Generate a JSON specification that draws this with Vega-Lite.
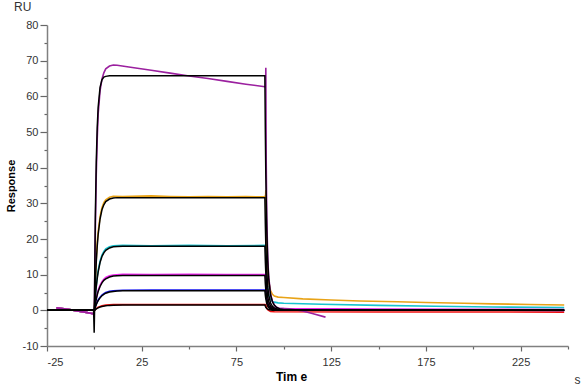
{
  "$schema": "https://vega.github.io/schema/vega-lite/v6.json",
  "width": 521,
  "height": 321,
  "autosize": "none",
  "padding": {"left": 47, "top": 25, "right": 13, "bottom": 41},
  "config": {"font": "Liberation Sans", "view": {"stroke": null}},
  "title": {"text": "RU", "anchor": "start", "frame": "group", "dx": -33, "offset": 5, "fontSize": 12, "fontWeight": "normal", "color": "#333333"},
  "datasets": {
    "meas": [
      {"s":"P6","t":-20,"v":0.7},{"s":"P6","t":-17,"v":0.5},{"s":"P6","t":-13,"v":0.2},{"s":"P6","t":-9,"v":-0.2},{"s":"P6","t":-5,"v":-0.5},{"s":"P6","t":-2,"v":-0.8},{"s":"P6","t":-0.5,"v":-1.0},
      {"s":"P6","t":0,"v":0},{"s":"P6","t":1,"v":0.5},{"s":"P6","t":2,"v":0.85},{"s":"P6","t":3,"v":1.1},{"s":"P6","t":4,"v":1.25},{"s":"P6","t":6,"v":1.45},{"s":"P6","t":8,"v":1.55},{"s":"P6","t":10,"v":1.6},{"s":"P6","t":20,"v":1.65},{"s":"P6","t":60,"v":1.65},{"s":"P6","t":90,"v":1.65},{"s":"P6","t":90.5,"v":1.6},{"s":"P6","t":90.7,"v":1.0},{"s":"P6","t":91,"v":0.6},{"s":"P6","t":91.5,"v":0.2},{"s":"P6","t":92,"v":0},{"s":"P6","t":93,"v":-0.3},{"s":"P6","t":95,"v":-0.4},{"s":"P6","t":150,"v":-0.45},{"s":"P6","t":248,"v":-0.5},

      {"s":"P5","t":-20,"v":0.7},{"s":"P5","t":-17,"v":0.5},{"s":"P5","t":-13,"v":0.2},{"s":"P5","t":-9,"v":-0.2},{"s":"P5","t":-5,"v":-0.5},{"s":"P5","t":-2,"v":-0.8},{"s":"P5","t":-0.5,"v":-1.0},
      {"s":"P5","t":0,"v":0},{"s":"P5","t":0.5,"v":1.0},{"s":"P5","t":1,"v":1.8},{"s":"P5","t":1.5,"v":2.4},{"s":"P5","t":2,"v":2.9},{"s":"P5","t":3,"v":3.7},{"s":"P5","t":4,"v":4.3},{"s":"P5","t":5,"v":4.7},{"s":"P5","t":6,"v":5.0},{"s":"P5","t":8,"v":5.35},{"s":"P5","t":10,"v":5.5},{"s":"P5","t":15,"v":5.65},{"s":"P5","t":30,"v":5.7},{"s":"P5","t":60,"v":5.7},{"s":"P5","t":90,"v":5.7},{"s":"P5","t":90.5,"v":5.7},{"s":"P5","t":90.7,"v":4.0},{"s":"P5","t":91,"v":2.8},{"s":"P5","t":91.5,"v":1.7},{"s":"P5","t":92,"v":1.1},{"s":"P5","t":93,"v":0.5},{"s":"P5","t":94,"v":0.3},{"s":"P5","t":96,"v":0.15},{"s":"P5","t":150,"v":0.05},{"s":"P5","t":248,"v":0.0},

      {"s":"P3","t":-20,"v":0.7},{"s":"P3","t":-17,"v":0.5},{"s":"P3","t":-13,"v":0.2},{"s":"P3","t":-9,"v":-0.2},{"s":"P3","t":-5,"v":-0.5},{"s":"P3","t":-2,"v":-0.8},{"s":"P3","t":-0.5,"v":-1.0},
      {"s":"P3","t":0,"v":0},{"s":"P3","t":0.5,"v":4},{"s":"P3","t":1,"v":7},{"s":"P3","t":1.5,"v":9.4},{"s":"P3","t":2,"v":11.2},{"s":"P3","t":3,"v":13.8},{"s":"P3","t":4,"v":15.5},{"s":"P3","t":5,"v":16.5},{"s":"P3","t":6,"v":17.2},{"s":"P3","t":8,"v":17.8},{"s":"P3","t":10,"v":18.1},{"s":"P3","t":15,"v":18.2},{"s":"P3","t":30,"v":18.1},{"s":"P3","t":50,"v":18.2},{"s":"P3","t":70,"v":18.1},{"s":"P3","t":90,"v":18.2},{"s":"P3","t":90.5,"v":18.3},{"s":"P3","t":90.7,"v":13},{"s":"P3","t":91,"v":9.5},{"s":"P3","t":91.5,"v":6.0},{"s":"P3","t":92,"v":4.2},{"s":"P3","t":93,"v":3.0},{"s":"P3","t":94,"v":2.5},{"s":"P3","t":95,"v":2.3},{"s":"P3","t":97,"v":2.1},{"s":"P3","t":100,"v":2.0},{"s":"P3","t":120,"v":1.7},{"s":"P3","t":150,"v":1.4},{"s":"P3","t":180,"v":1.15},{"s":"P3","t":210,"v":0.95},{"s":"P3","t":248,"v":0.75},

      {"s":"P2","t":-20,"v":0.7},{"s":"P2","t":-17,"v":0.5},{"s":"P2","t":-13,"v":0.2},{"s":"P2","t":-9,"v":-0.2},{"s":"P2","t":-5,"v":-0.5},{"s":"P2","t":-2,"v":-0.8},{"s":"P2","t":-0.5,"v":-1.0},
      {"s":"P2","t":0,"v":0},{"s":"P2","t":0.5,"v":8.5},{"s":"P2","t":1,"v":14.5},{"s":"P2","t":1.5,"v":19},{"s":"P2","t":2,"v":22},{"s":"P2","t":3,"v":26.3},{"s":"P2","t":4,"v":28.8},{"s":"P2","t":5,"v":30.2},{"s":"P2","t":6,"v":31.0},{"s":"P2","t":8,"v":31.7},{"s":"P2","t":10,"v":32.0},{"s":"P2","t":15,"v":31.9},{"s":"P2","t":20,"v":32.0},{"s":"P2","t":30,"v":32.1},{"s":"P2","t":40,"v":31.9},{"s":"P2","t":50,"v":31.8},{"s":"P2","t":60,"v":31.9},{"s":"P2","t":70,"v":31.8},{"s":"P2","t":80,"v":31.9},{"s":"P2","t":90,"v":31.8},{"s":"P2","t":90.4,"v":32.3},{"s":"P2","t":90.5,"v":33.7},{"s":"P2","t":90.7,"v":24},{"s":"P2","t":91,"v":17},{"s":"P2","t":91.5,"v":11},{"s":"P2","t":92,"v":8},{"s":"P2","t":93,"v":5.5},{"s":"P2","t":94,"v":4.5},{"s":"P2","t":95,"v":4.0},{"s":"P2","t":97,"v":3.7},{"s":"P2","t":100,"v":3.6},{"s":"P2","t":110,"v":3.2},{"s":"P2","t":125,"v":2.9},{"s":"P2","t":140,"v":2.6},{"s":"P2","t":160,"v":2.4},{"s":"P2","t":175,"v":2.2},{"s":"P2","t":195,"v":2.0},{"s":"P2","t":210,"v":1.8},{"s":"P2","t":230,"v":1.65},{"s":"P2","t":248,"v":1.5},

      {"s":"P4","t":-20,"v":0.7},{"s":"P4","t":-17,"v":0.5},{"s":"P4","t":-13,"v":0.2},{"s":"P4","t":-9,"v":-0.2},{"s":"P4","t":-5,"v":-0.5},{"s":"P4","t":-2,"v":-0.8},{"s":"P4","t":-0.5,"v":-1.0},
      {"s":"P4","t":0,"v":0},{"s":"P4","t":0.5,"v":1.9},{"s":"P4","t":1,"v":3.4},{"s":"P4","t":1.5,"v":4.6},{"s":"P4","t":2,"v":5.6},{"s":"P4","t":3,"v":7.0},{"s":"P4","t":4,"v":8.0},{"s":"P4","t":5,"v":8.7},{"s":"P4","t":6,"v":9.2},{"s":"P4","t":8,"v":9.7},{"s":"P4","t":10,"v":9.9},{"s":"P4","t":15,"v":10.1},{"s":"P4","t":30,"v":10.0},{"s":"P4","t":50,"v":10.1},{"s":"P4","t":70,"v":10.0},{"s":"P4","t":90,"v":10.0},{"s":"P4","t":90.5,"v":10.0},{"s":"P4","t":90.7,"v":7},{"s":"P4","t":91,"v":5},{"s":"P4","t":91.5,"v":3.2},{"s":"P4","t":92,"v":2.1},{"s":"P4","t":93,"v":1.1},{"s":"P4","t":94,"v":0.8},{"s":"P4","t":96,"v":0.6},{"s":"P4","t":100,"v":0.5},{"s":"P4","t":150,"v":0.35},{"s":"P4","t":200,"v":0.3},{"s":"P4","t":248,"v":0.2},

      {"s":"P1","t":-20,"v":0.7},{"s":"P1","t":-17,"v":0.5},{"s":"P1","t":-13,"v":0.2},{"s":"P1","t":-9,"v":-0.2},{"s":"P1","t":-5,"v":-0.5},{"s":"P1","t":-2,"v":-0.8},{"s":"P1","t":-0.5,"v":-1.0},
      {"s":"P1","t":0,"v":0},{"s":"P1","t":0.5,"v":22},{"s":"P1","t":1,"v":38},{"s":"P1","t":1.5,"v":48},{"s":"P1","t":2,"v":55},{"s":"P1","t":3,"v":61.5},{"s":"P1","t":4,"v":64.8},{"s":"P1","t":5,"v":66.6},{"s":"P1","t":6,"v":67.7},{"s":"P1","t":8,"v":68.5},{"s":"P1","t":10,"v":68.8},{"s":"P1","t":12,"v":68.7},{"s":"P1","t":20,"v":68.1},{"s":"P1","t":30,"v":67.3},{"s":"P1","t":40,"v":66.5},{"s":"P1","t":50,"v":65.7},{"s":"P1","t":60,"v":65.0},{"s":"P1","t":70,"v":64.2},{"s":"P1","t":80,"v":63.4},{"s":"P1","t":90,"v":62.7},{"s":"P1","t":90.4,"v":62.6},{"s":"P1","t":90.5,"v":68.0},{"s":"P1","t":90.7,"v":42},{"s":"P1","t":91,"v":26},{"s":"P1","t":91.5,"v":15},{"s":"P1","t":92,"v":9.5},{"s":"P1","t":93,"v":4.5},{"s":"P1","t":94,"v":2.5},{"s":"P1","t":95,"v":1.5},{"s":"P1","t":96,"v":1.0},{"s":"P1","t":97,"v":0.6},{"s":"P1","t":103,"v":0.4},{"s":"P1","t":110,"v":-0.2},{"s":"P1","t":116,"v":-1.0},{"s":"P1","t":122,"v":-1.9}
    ],
    "fit": [
      {"s":"F1","t":-25,"v":0},{"s":"F1","t":0,"v":0},{"s":"F1","t":0.5,"v":25.9},{"s":"F1","t":1,"v":41.6},{"s":"F1","t":1.5,"v":51.1},{"s":"F1","t":2,"v":56.9},{"s":"F1","t":3,"v":62.5},{"s":"F1","t":4,"v":64.6},{"s":"F1","t":5,"v":65.4},{"s":"F1","t":6,"v":65.6},{"s":"F1","t":8,"v":65.8},{"s":"F1","t":90,"v":65.8},{"s":"F1","t":90.25,"v":49.9},{"s":"F1","t":90.5,"v":38.0},{"s":"F1","t":91,"v":22.6},{"s":"F1","t":91.5,"v":13.9},{"s":"F1","t":92,"v":9.0},{"s":"F1","t":93,"v":4.3},{"s":"F1","t":94,"v":2.4},{"s":"F1","t":95,"v":1.4},{"s":"F1","t":96,"v":0.9},{"s":"F1","t":98,"v":0.4},{"s":"F1","t":100,"v":0.18},{"s":"F1","t":105,"v":0},{"s":"F1","t":248,"v":0},

      {"s":"F2","t":-25,"v":0},{"s":"F2","t":0,"v":0},{"s":"F2","t":0.5,"v":7.7},{"s":"F2","t":1,"v":13.5},{"s":"F2","t":1.5,"v":17.9},{"s":"F2","t":2,"v":21.2},{"s":"F2","t":3,"v":25.6},{"s":"F2","t":4,"v":28.2},{"s":"F2","t":5,"v":29.6},{"s":"F2","t":6,"v":30.5},{"s":"F2","t":8,"v":31.2},{"s":"F2","t":10,"v":31.5},{"s":"F2","t":12,"v":31.6},{"s":"F2","t":90,"v":31.6},{"s":"F2","t":90.25,"v":24.0},{"s":"F2","t":90.5,"v":18.3},{"s":"F2","t":91,"v":10.9},{"s":"F2","t":91.5,"v":6.7},{"s":"F2","t":92,"v":4.3},{"s":"F2","t":93,"v":2.05},{"s":"F2","t":94,"v":1.14},{"s":"F2","t":95,"v":0.69},{"s":"F2","t":96,"v":0.43},{"s":"F2","t":98,"v":0.19},{"s":"F2","t":100,"v":0.085},{"s":"F2","t":105,"v":0},{"s":"F2","t":248,"v":0},

      {"s":"F3","t":-25,"v":0},{"s":"F3","t":0,"v":0},{"s":"F3","t":0.5,"v":3.7},{"s":"F3","t":1,"v":6.6},{"s":"F3","t":1.5,"v":8.9},{"s":"F3","t":2,"v":10.7},{"s":"F3","t":3,"v":13.4},{"s":"F3","t":4,"v":15.1},{"s":"F3","t":5,"v":16.1},{"s":"F3","t":6,"v":16.8},{"s":"F3","t":8,"v":17.5},{"s":"F3","t":10,"v":17.8},{"s":"F3","t":12,"v":17.9},{"s":"F3","t":15,"v":18.0},{"s":"F3","t":90,"v":18.0},{"s":"F3","t":90.25,"v":13.6},{"s":"F3","t":90.5,"v":10.4},{"s":"F3","t":91,"v":6.2},{"s":"F3","t":91.5,"v":3.8},{"s":"F3","t":92,"v":2.5},{"s":"F3","t":93,"v":1.17},{"s":"F3","t":94,"v":0.65},{"s":"F3","t":95,"v":0.39},{"s":"F3","t":96,"v":0.24},{"s":"F3","t":98,"v":0.11},{"s":"F3","t":100,"v":0.05},{"s":"F3","t":105,"v":0},{"s":"F3","t":248,"v":0},

      {"s":"F4","t":-25,"v":0},{"s":"F4","t":0,"v":0},{"s":"F4","t":0.5,"v":1.7},{"s":"F4","t":1,"v":3.1},{"s":"F4","t":1.5,"v":4.3},{"s":"F4","t":2,"v":5.3},{"s":"F4","t":3,"v":6.7},{"s":"F4","t":4,"v":7.7},{"s":"F4","t":5,"v":8.4},{"s":"F4","t":6,"v":8.8},{"s":"F4","t":8,"v":9.35},{"s":"F4","t":10,"v":9.6},{"s":"F4","t":12,"v":9.7},{"s":"F4","t":15,"v":9.8},{"s":"F4","t":90,"v":9.8},{"s":"F4","t":90.25,"v":7.4},{"s":"F4","t":90.5,"v":5.7},{"s":"F4","t":91,"v":3.4},{"s":"F4","t":91.5,"v":2.1},{"s":"F4","t":92,"v":1.34},{"s":"F4","t":93,"v":0.64},{"s":"F4","t":94,"v":0.35},{"s":"F4","t":95,"v":0.21},{"s":"F4","t":96,"v":0.13},{"s":"F4","t":98,"v":0.06},{"s":"F4","t":100,"v":0.03},{"s":"F4","t":105,"v":0},{"s":"F4","t":248,"v":0},

      {"s":"F5","t":-25,"v":0},{"s":"F5","t":0,"v":0},{"s":"F5","t":0.5,"v":0.87},{"s":"F5","t":1,"v":1.6},{"s":"F5","t":1.5,"v":2.2},{"s":"F5","t":2,"v":2.7},{"s":"F5","t":3,"v":3.5},{"s":"F5","t":4,"v":4.1},{"s":"F5","t":5,"v":4.5},{"s":"F5","t":6,"v":4.8},{"s":"F5","t":8,"v":5.15},{"s":"F5","t":10,"v":5.3},{"s":"F5","t":12,"v":5.4},{"s":"F5","t":15,"v":5.47},{"s":"F5","t":18,"v":5.5},{"s":"F5","t":90,"v":5.5},{"s":"F5","t":90.25,"v":4.2},{"s":"F5","t":90.5,"v":3.2},{"s":"F5","t":91,"v":1.9},{"s":"F5","t":91.5,"v":1.17},{"s":"F5","t":92,"v":0.75},{"s":"F5","t":93,"v":0.36},{"s":"F5","t":94,"v":0.2},{"s":"F5","t":95,"v":0.12},{"s":"F5","t":96,"v":0.07},{"s":"F5","t":98,"v":0.03},{"s":"F5","t":100,"v":0.015},{"s":"F5","t":105,"v":0},{"s":"F5","t":248,"v":0},

      {"s":"F6","t":-25,"v":0},{"s":"F6","t":-0.4,"v":0},{"s":"F6","t":-0.1,"v":-6.3},{"s":"F6","t":0.1,"v":0},{"s":"F6","t":1,"v":0.41},{"s":"F6","t":2,"v":0.71},{"s":"F6","t":3,"v":0.93},{"s":"F6","t":4,"v":1.09},{"s":"F6","t":6,"v":1.28},{"s":"F6","t":8,"v":1.39},{"s":"F6","t":10,"v":1.44},{"s":"F6","t":15,"v":1.49},{"s":"F6","t":18,"v":1.5},{"s":"F6","t":90,"v":1.5},{"s":"F6","t":90.25,"v":1.14},{"s":"F6","t":90.5,"v":0.87},{"s":"F6","t":91,"v":0.52},{"s":"F6","t":91.5,"v":0.32},{"s":"F6","t":92,"v":0.21},{"s":"F6","t":93,"v":0.1},{"s":"F6","t":94,"v":0.05},{"s":"F6","t":95,"v":0.03},{"s":"F6","t":96,"v":0.02},{"s":"F6","t":98,"v":0.01},{"s":"F6","t":100,"v":0},{"s":"F6","t":248,"v":0}
    ]
  },
  "layer": [
    {
      "data": {"name": "meas"},
      "mark": {"type": "line", "strokeWidth": 1.6, "clip": false},
      "encoding": {
        "x": {
          "field": "t", "type": "quantitative",
          "scale": {"domain": [-25, 250], "nice": false, "zero": false},
          "axis": {
            "title": "Tim e", "titleFontWeight": "bold", "titleFontSize": 12, "titleColor": "#000000",
            "titleX": 244, "titlePadding": 4,
            "values": [-25, 0, 25, 50, 75, 100, 125, 150, 175, 200, 225, 250],
            "labelExpr": "datum.value % 50 === 0 ? '' : replace(datum.label, '−', '-')",
            "labelFontSize": 11, "labelColor": "#333333", "labelPadding": 5,
            "grid": false, "domainColor": "#808080", "domainWidth": 1.5,
            "tickColor": "#666666", "tickWidth": 1.2,
            "tickSize": {"condition": {"test": "datum.value % 50 === 0", "value": 3}, "value": 5}
          }
        },
        "y": {
          "field": "v", "type": "quantitative",
          "scale": {"domain": [-10, 80], "nice": false, "zero": false},
          "axis": {
            "title": "Response", "titleFontWeight": "bold", "titleFontSize": 11, "titleColor": "#000000", "titlePadding": 6,
            "values": [-10, -5, 0, 5, 10, 15, 20, 25, 30, 35, 40, 45, 50, 55, 60, 65, 70, 75, 80],
            "labelExpr": "datum.value % 10 === 0 ? replace(datum.label, '−', '-') : ''",
            "labelFontSize": 11, "labelColor": "#333333", "labelPadding": 2,
            "grid": false, "domainColor": "#808080", "domainWidth": 1.5,
            "tickColor": "#666666", "tickWidth": 1.2,
            "tickSize": {"condition": {"test": "datum.value % 10 === 0", "value": 7}, "value": 3}
          }
        },
        "color": {
          "field": "s", "type": "nominal", "legend": null,
          "scale": {"domain": ["P1", "P2", "P3", "P4", "P5", "P6"], "range": ["#9b209f", "#e8a317", "#17c3cf", "#ee22ee", "#1515f0", "#f01010"]}
        }
      }
    },
    {
      "data": {"name": "fit"},
      "mark": {"type": "line", "strokeWidth": 1.5, "color": "#000000", "clip": false},
      "encoding": {
        "x": {"field": "t", "type": "quantitative"},
        "y": {
          "field": "v", "type": "quantitative",
          "axis": {
            "orient": "right", "title": "s", "titleAngle": 0, "titleX": 9, "titleY": 354,
            "titleAlign": "center", "titleBaseline": "middle", "titleFontWeight": "normal", "titleFontSize": 12, "titleColor": "#333333",
            "domain": false, "ticks": false, "labels": false, "grid": false
          }
        },
        "detail": {"field": "s", "type": "nominal"}
      }
    }
  ],
  "resolve": {"axis": {"y": "independent"}}
}
